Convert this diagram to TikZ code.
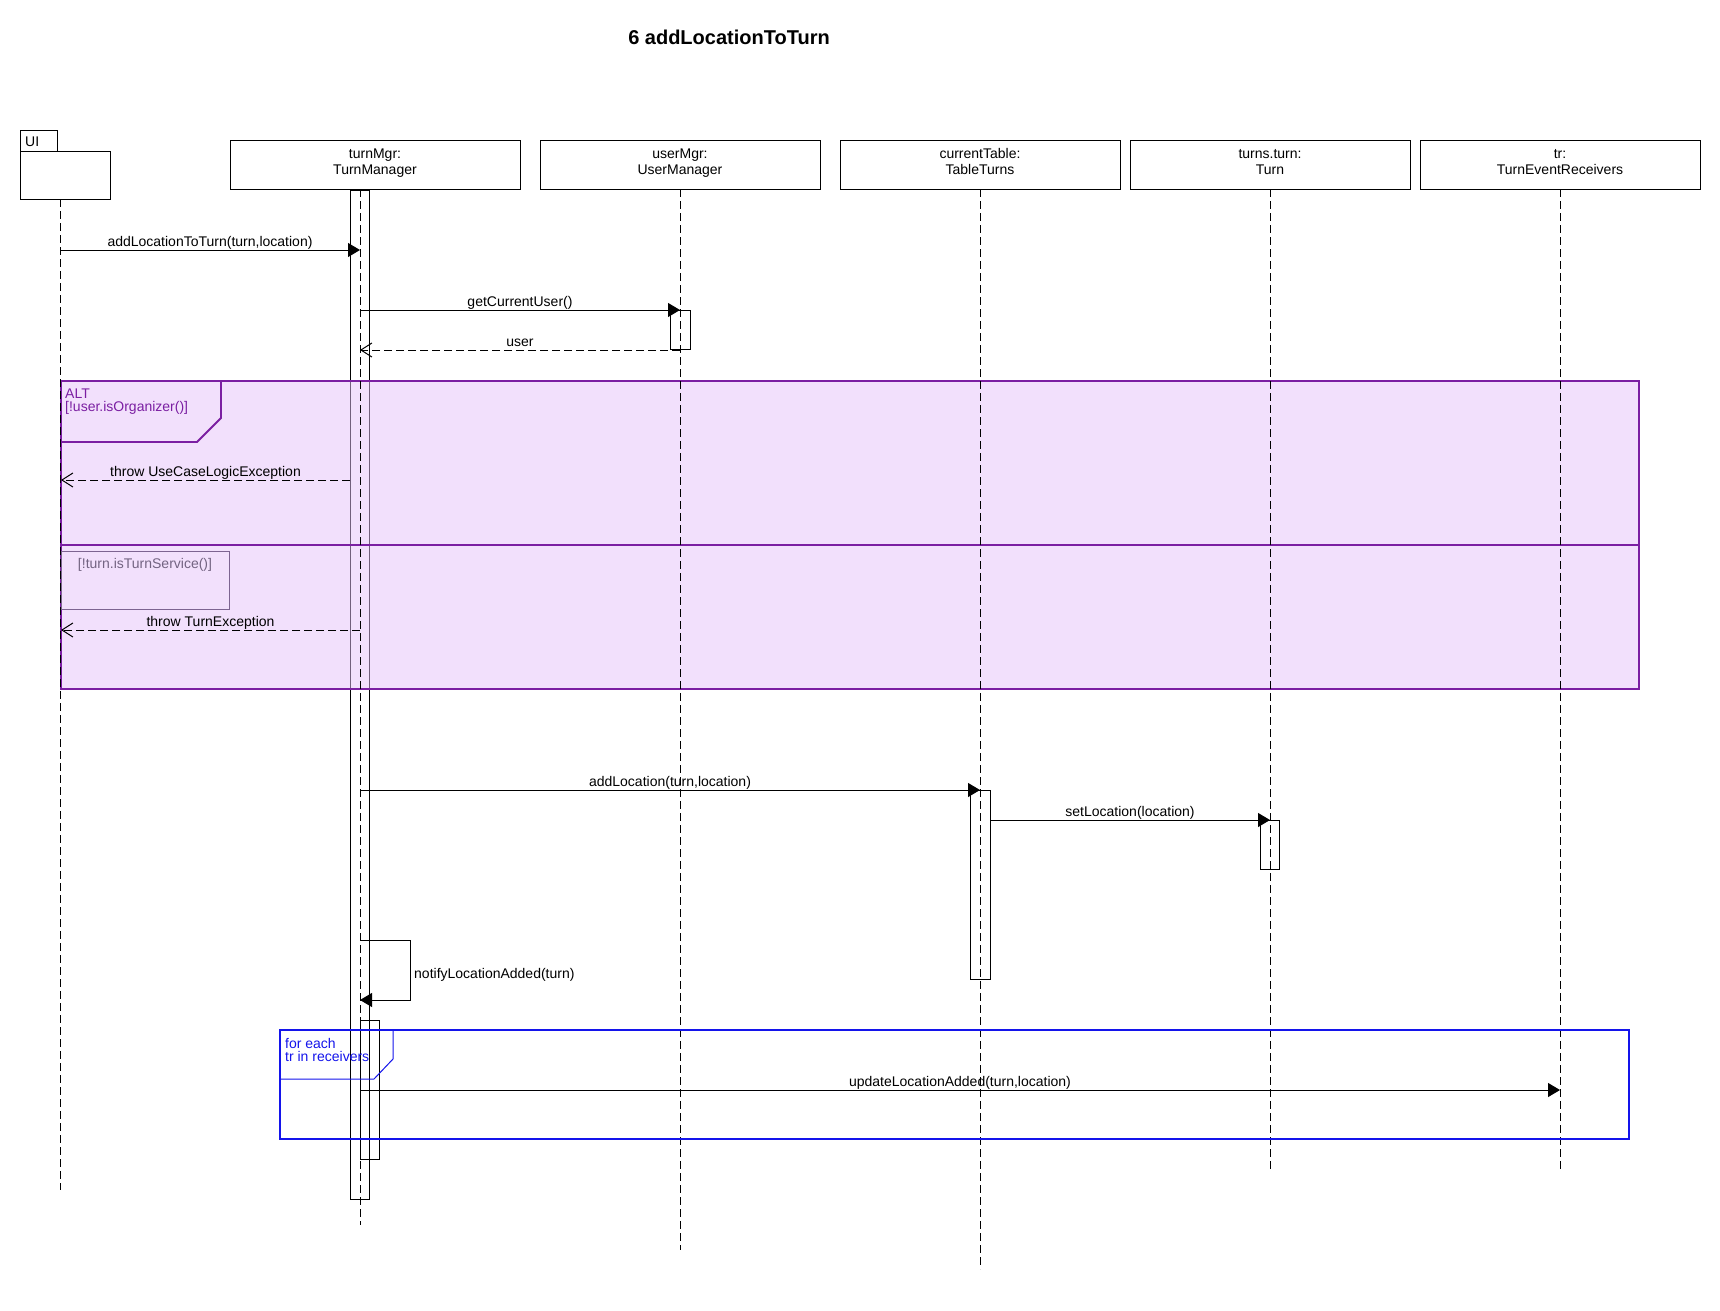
\documentclass[tikz,border=0pt]{standalone}
\usepackage{fontspec}
\setmainfont{Liberation Sans}
\usetikzlibrary{arrows.meta}
\definecolor{altline}{RGB}{123,31,162}
\definecolor{altfill}{RGB}{229,193,249}
\definecolor{guardline}{RGB}{125,100,145}
\definecolor{guardtext}{RGB}{115,100,130}
\definecolor{loopblue}{RGB}{20,20,235}
\newcommand\hdtop{\rule[-4.5pt]{0pt}{15pt}}
\newcommand\hdbot{\rule[-7.5pt]{0pt}{18.5pt}}
\begin{document}
\begin{tikzpicture}[x=1pt,y=-1pt,
  every node/.style={font=\fontsize{14}{16}\selectfont},
  objbox/.style={draw, line width=1pt, minimum width=280pt, minimum height=49pt, inner sep=0pt, align=center},
  lifeline/.style={line width=1pt, dash pattern=on 8pt off 4pt},
  actbar/.style={draw, line width=1pt},
  syncmsg/.style={line width=1pt, -{Triangle[length=12pt,width=14pt]}},
  retmsg/.style={line width=1pt, dash pattern=on 8pt off 4pt, -{Straight Barb[length=11pt,width=14pt,line width=1pt]}},
  msglabel/.style={anchor=base, inner sep=0pt, yshift=4pt},
  alttext/.style={anchor=base west, inner sep=0pt, text=altline},
  looptext/.style={anchor=base west, inner sep=0pt, text=loopblue},
]
\useasboundingbox (0,0) rectangle (1720,1310);

% title
\node[anchor=base, inner sep=0pt, font=\fontsize{20}{24}\selectfont\bfseries] (title) at (729,44) {6 addLocationToTurn};

% participants
\draw[line width=1pt] (20,130) rectangle (57,151);
\node[anchor=base west, inner sep=0pt] (uitxt) at (25,146) {UI};
\node[draw, line width=1pt, minimum width=90pt, minimum height=48pt, inner sep=0pt] (ui) at (65,175) {};
\node[objbox, minimum width=290pt] (tm) at (375,164.5) {\hdtop turnMgr:\\\hdbot TurnManager};
\node[objbox] (um) at (680,164.5) {\hdtop userMgr:\\\hdbot UserManager};
\node[objbox] (ct) at (980,164.5) {\hdtop currentTable:\\\hdbot TableTurns};
\node[objbox] (tt) at (1270,164.5) {\hdtop turns.turn:\\\hdbot Turn};
\node[objbox] (tr) at (1560,164.5) {\hdtop tr:\\\hdbot TurnEventReceivers};

% lifeline anchors
\coordinate (uiT) at (60,199);   \coordinate (uiB) at (60,1190);
\coordinate (tmT) at (360,189);  \coordinate (tmB) at (360,1225);
\coordinate (umT) at (680,189);  \coordinate (umB) at (680,1250);
\coordinate (ctT) at (980,189);  \coordinate (ctB) at (980,1269);
\coordinate (ttT) at (1270,189); \coordinate (ttB) at (1270,1170);
\coordinate (trT) at (1560,189); \coordinate (trB) at (1560,1170);

% activation bars
\draw[actbar] (350,190) rectangle (369,1199);
\draw[actbar] (670,310) rectangle (690,349);
\draw[actbar] (970,790) rectangle (990,979);
\draw[actbar] (1260,820) rectangle (1279,869);
\draw[actbar] (360,1020) rectangle (379,1159);

% ALT fragment
\fill[altfill, fill opacity=0.5] (61,381) rectangle (1639,689);
\draw[altline, line width=1.8pt] (61,381) rectangle (1639,689);
\draw[altline, line width=1.8pt] (61,545) -- (1639,545);
\draw[altline, line width=1.8pt] (61,442) -- (197,442) -- (221,418) -- (221,381);
\node[alttext] (altA) at (65,398) {ALT};
\node[alttext] (altB) at (65,411) {[!user.isOrganizer()]};
\draw[guardline, line width=1pt] (61,551) rectangle (229,609);
\node[anchor=base, inner sep=0pt, text=guardtext] (g2) at (145,568) {[!turn.isTurnService()]};

% lifelines
\draw[lifeline] (uiT) -- (uiB);
\draw[lifeline] (tmT) -- (tmB);
\draw[lifeline] (umT) -- (umB);
\draw[lifeline] (ctT) -- (ctB);
\draw[lifeline] (ttT) -- (ttB);
\draw[lifeline] (trT) -- (trB);

% message levels
\coordinate (y1) at (0,250);
\coordinate (y2) at (0,310);
\coordinate (y3) at (0,350);
\coordinate (y4) at (0,480);
\coordinate (y5) at (0,630);
\coordinate (y6) at (0,790);
\coordinate (y7) at (0,820);
\coordinate (y9) at (0,1090);
\coordinate (altL) at (61,0);
\coordinate (barL) at (350,0);
\coordinate (ctR) at (990,0);

\draw[syncmsg] (uiT |- y1) -- node[msglabel] (l1) {addLocationToTurn(turn,location)} (tmT |- y1);
\draw[syncmsg] (tmT |- y2) -- node[msglabel] (l2) {getCurrentUser()} (umT |- y2);
\draw[retmsg] (umT |- y3) -- node[msglabel] (l3) {user} (tmT |- y3);
\draw[retmsg] (barL |- y4) -- node[msglabel] (l4) {throw UseCaseLogicException} (altL |- y4);
\draw[retmsg] (tmT |- y5) -- node[msglabel] (l5) {throw TurnException} (altL |- y5);
\draw[syncmsg] (tmT |- y6) -- node[msglabel] (l6) {addLocation(turn,location)} (ctT |- y6);
\draw[syncmsg] (ctR |- y7) -- node[msglabel] (l7) {setLocation(location)} (ttT |- y7);

% self message
\coordinate (s1) at (360,940);
\coordinate (s2) at (410,940);
\coordinate (s3) at (410,1000);
\coordinate (s4) at (360,1000);
\draw[syncmsg] (s1) -- (s2) -- (s3) -- (s4);
\node[anchor=base west, inner sep=0pt] (l8) at (414,978) {notifyLocationAdded(turn)};

% loop fragment
\draw[loopblue, line width=1.2pt] (280,1030) rectangle (1629,1139);
\draw[loopblue, line width=1pt] (280,1079) -- (374,1079) -- (393,1059) -- (393,1030);
\node[looptext] (lpA) at (285,1048) {for each};
\node[looptext] (lpB) at (285,1061) {tr in receivers};

\draw[syncmsg] (tmT |- y9) -- node[msglabel] (l9) {updateLocationAdded(turn,location)} (trT |- y9);
\end{tikzpicture}
\end{document}
